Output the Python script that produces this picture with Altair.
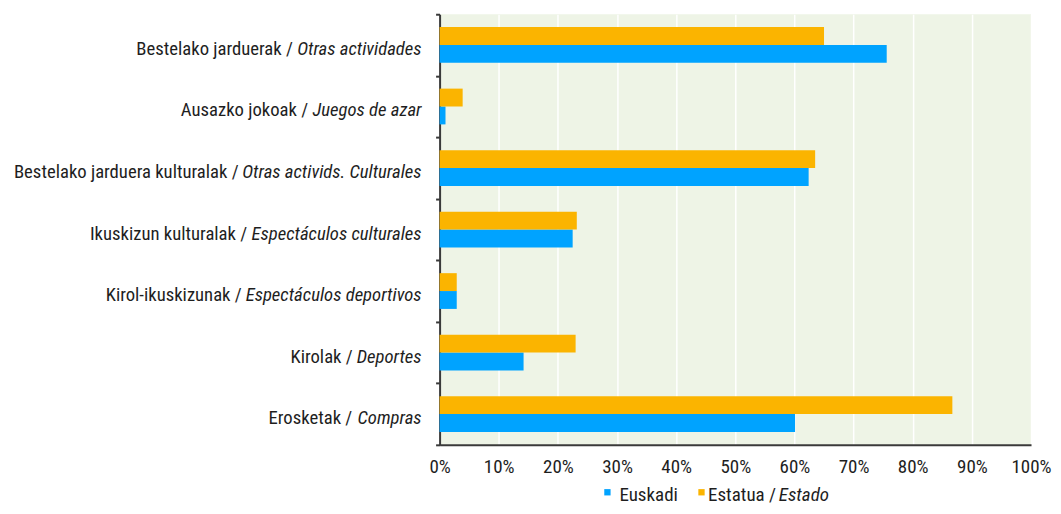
import altair as alt
import pandas as pd

# ---------------- data ----------------
categories = ["Bestelako jarduerak", "Ausazko jokoak", "Bestelako jarduera kulturalak",
              "Ikuskizun kulturalak", "Kirol-ikuskizunak", "Kirolak", "Erosketak"]
categories_es = ["Otras actividades", "Juegos de azar", "Otras activids. Culturales",
                 "Espectáculos culturales", "Espectáculos deportivos", "Deportes", "Compras"]
euskadi = [75.6, 1.0, 62.4, 22.5, 2.9, 14.2, 60.1]
estatua = [65.0, 3.9, 63.5, 23.2, 2.9, 23.0, 86.7]
x_ticks = [0, 10, 20, 30, 40, 50, 60, 70, 80, 90, 100]
series_names = ["Euskadi", "Estatua"]
legend_eu = "Euskadi"
legend_es_normal = "Estatua /"
legend_es_italic = "Estado"

# ---------------- style ----------------
FONT = "Roboto Condensed"
FS = 19          # axis / legend text
FS_LAB = 18.7    # category labels
TXT = "#1e1e1e"
BLUE = "#00A3FF"
ORANGE = "#FBB400"
BG = "#EEF4E6"
AXIS = "#3a3a3a"
W, H = 592, 431
PX = W / 100.0  # pixels per percentage point
ITALIC_FACTOR = 0.99

# approximate Roboto advance widths (2048 upm); condensed ~0.89x
_RW = {' ': 507, 'a': 1086, 'b': 1123, 'c': 1048, 'd': 1128, 'e': 1060, 'f': 695,
       'g': 1123, 'h': 1102, 'i': 486, 'j': 477, 'k': 1013, 'l': 486, 'm': 1754,
       'n': 1104, 'o': 1141, 'p': 1123, 'q': 1136, 'r': 677, 's': 1032, 't': 654,
       'u': 1102, 'v': 969, 'w': 1506, 'x': 993, 'y': 947, 'z': 991, 'A': 1336,
       'B': 1275, 'C': 1302, 'D': 1310, 'E': 1136, 'I': 557, 'J': 1104, 'K': 1256,
       'O': 1377, '.': 539, '/': 824, '-': 553, 'á': 1086}


def tw(s, size=FS):
    return sum(_RW.get(ch, 1100) for ch in s) / 2048.0 * 0.89 * size


# ---------------- frames ----------------
bars_df = pd.DataFrame({
    "cat": categories * 2,
    "series": ["Euskadi"] * len(categories) + ["Estatua"] * len(categories),
    "value": euskadi + estatua,
})

LABEL_GAP = 18
lab_rows = []
for c, es in zip(categories, categories_es):
    x_it = -LABEL_GAP
    x_no = x_it - tw(es, FS_LAB) * ITALIC_FACTOR - tw(" ", FS_LAB)
    lab_rows.append({"cat": c, "normal": c + " /", "italic": es,
                     "x_it": x_it / PX, "x_no": x_no / PX})
lab_df = pd.DataFrame(lab_rows)

y_axis = alt.Axis(labels=False, title=None, ticks=True, tickBand="extent", tickSize=4,
                  tickColor=AXIS, tickWidth=2, domainColor=AXIS, domainWidth=2, grid=False)
x_axis = alt.Axis(values=x_ticks, labelExpr="datum.value + '%'", ticks=False, tickSize=0,
                  grid=True, gridColor="white", gridWidth=1.5, domainColor=AXIS,
                  domainWidth=2, labelPadding=13, title=None, labelFontSize=FS,
                  labelFont=FONT, labelColor=TXT, labelOverlap=False, labelFlush=False)
x_scale = alt.Scale(domain=[0, 100], nice=False)
y_enc = alt.Y("cat:N", sort=categories, axis=y_axis,
              scale=alt.Scale(paddingInner=0, paddingOuter=0))

bars = alt.Chart(bars_df).mark_bar().encode(
    y=y_enc,
    yOffset=alt.YOffset("series:N", sort=["Estatua", "Euskadi"],
                        scale=alt.Scale(paddingInner=0, paddingOuter=0.72)),
    x=alt.X("value:Q", scale=x_scale, axis=x_axis),
    color=alt.Color("series:N", scale=alt.Scale(domain=series_names, range=[BLUE, ORANGE]),
                    legend=None),
)

lab_it = alt.Chart(lab_df).mark_text(
    align="right", baseline="middle", fontStyle="italic", font=FONT, fontSize=FS_LAB,
    color=TXT, dy=4
).encode(y=y_enc, x=alt.X("x_it:Q", scale=x_scale, axis=x_axis), text="italic:N")

lab_no = alt.Chart(lab_df).mark_text(
    align="right", baseline="middle", font=FONT, fontSize=FS_LAB, color=TXT, dy=4
).encode(y=y_enc, x=alt.X("x_no:Q", scale=x_scale, axis=x_axis), text="normal:N")

# ---------------- custom legend ----------------
LEG_Y = 481.5
SQ_Y = LEG_Y - 3
sq1_x = 168
t1_x = sq1_x + 12
sq2_x = t1_x + tw(legend_eu) + 24.5
t2_x = sq2_x + 6.5
t3_x = t2_x + tw(legend_es_normal) + tw(" ")

leg_layers = [
    alt.Chart(pd.DataFrame({"s": [series_names[0]]})).mark_square(size=40, color=BLUE, opacity=1)
    .encode(x=alt.value(sq1_x), y=alt.value(SQ_Y)),
    alt.Chart(pd.DataFrame({"s": [legend_eu]})).mark_text(
        align="left", baseline="middle", font=FONT, fontSize=FS, color=TXT)
    .encode(x=alt.value(t1_x), y=alt.value(LEG_Y), text="s:N"),
    alt.Chart(pd.DataFrame({"s": [series_names[1]]})).mark_square(size=40, color=ORANGE, opacity=1)
    .encode(x=alt.value(sq2_x), y=alt.value(SQ_Y)),
    alt.Chart(pd.DataFrame({"s": [legend_es_normal]})).mark_text(
        align="left", baseline="middle", font=FONT, fontSize=FS, color=TXT)
    .encode(x=alt.value(t2_x), y=alt.value(LEG_Y), text="s:N"),
    alt.Chart(pd.DataFrame({"s": [legend_es_italic]})).mark_text(
        align="left", baseline="middle", font=FONT, fontSize=FS, color=TXT, fontStyle="italic")
    .encode(x=alt.value(t3_x), y=alt.value(LEG_Y), text="s:N"),
]

chart = alt.layer(bars, lab_no, lab_it, *leg_layers).properties(
    width=W, height=H,
    padding={"left": 432, "top": 6, "right": 22, "bottom": 61},
    autosize=alt.AutoSizeParams(type="none"),
    background="white",
).configure_view(fill=BG, stroke=None)

chart.save("out.html", embed_options={"renderer": "svg", "actions": False})
